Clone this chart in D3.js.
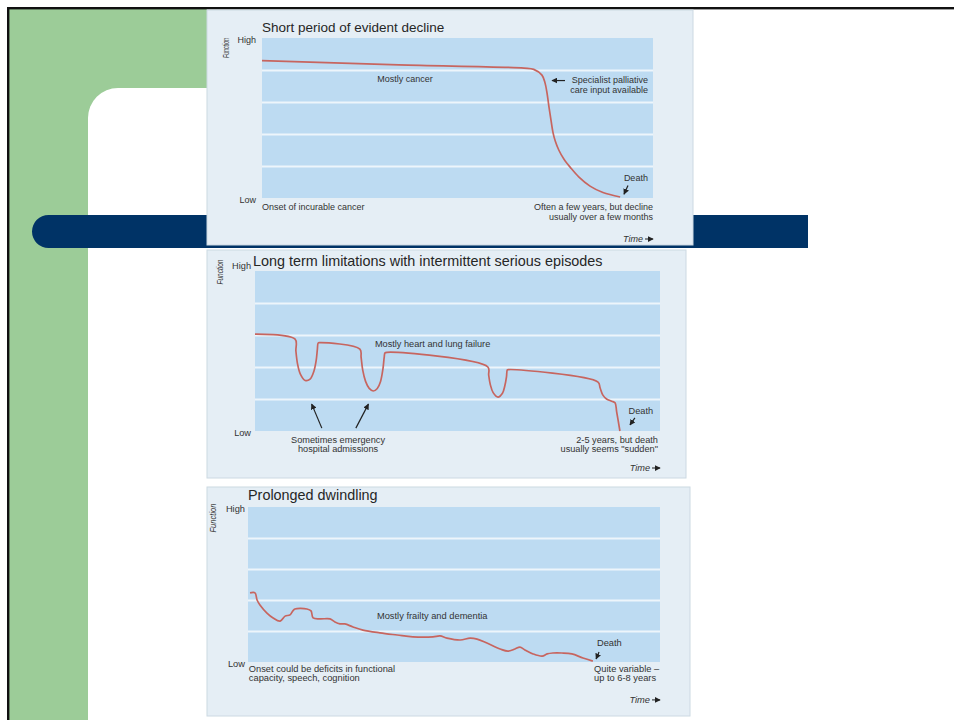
<!DOCTYPE html>
<html>
<head>
<meta charset="utf-8">
<script src="https://cdn.jsdelivr.net/npm/d3@7"></script>
<style>
body{margin:0;background:#fff;}
svg{display:block;font-family:"Liberation Sans",Arial,sans-serif;}
</style>
</head>
<body>
<svg id="slide" width="954" height="720"></svg>
<script>
// panel titles
var titles=["Short period of evident decline","Long term limitations with intermittent serious episodes","Prolonged dwindling"];
var yTickLabels=["Low","High"];   // function axis, 0 and 5
var bandTicks=[1,2,3,4];          // white lines between the blue bands

// trajectories: [time 0-100, function 0(low)-5(high)]
var cancerLine=[[0,4.29],[35,4.16],[67,4.06],[69.5,4.02],[71.6,3.84],[72.4,3.59],[72.9,3.28],[73.4,2.84],[73.9,2.44],[74.4,2.06],[75.0,1.78],[75.9,1.5],[77.2,1.22],[78.9,0.95],[81.0,0.66],[83.9,0.37],[87.2,0.17],[91.6,0.03]];
var heartLine=[[0,3.03],[9.9,2.87],[10.1,2.5],[10.5,2.1],[11.2,1.78],[12.4,1.58],[13.6,1.62],[14.5,1.85],[15.1,2.2],[15.4,2.55],[15.6,2.75],[16.0,2.76],
	[25.9,2.56],[26.2,2.3],[26.6,1.9],[27.3,1.55],[28.2,1.33],[29.2,1.25],[30.2,1.33],[31.0,1.55],[31.6,1.95],[31.9,2.3],[32.1,2.44],[32.6,2.46],
	[57.5,2.0],[57.7,1.75],[58.1,1.45],[58.8,1.2],[60.0,1.06],[61.1,1.18],[61.7,1.42],[62.1,1.7],[62.3,1.91],[62.6,1.92],
	[84.7,1.53],[85.2,1.35],[85.9,1.12],[86.8,1.0],[88.1,0.93],[88.9,0.88],[89.3,0.6],[90.1,0]];
var frailtyLine=[[0.5,2.23],[1.7,2.23],[2.2,2.0],[2.9,1.84],[4.6,1.58],[6.1,1.42],[7.8,1.32],[9.0,1.48],[10.2,1.52],[10.9,1.65],[11.4,1.71],
	[14.3,1.71],[15.3,1.65],[15.8,1.42],[17.5,1.39],[19.9,1.39],[21.1,1.29],[22.3,1.23],[23.5,1.23],[25.5,1.13],[27.9,1.03],
	[32.0,0.94],[36.2,0.87],[40.0,0.81],[44.9,0.81],[46.6,0.84],[48.3,0.77],[51.5,0.71],[53.9,0.77],[55.6,0.74],[58.0,0.61],
	[61.2,0.42],[63.1,0.35],[64.8,0.42],[66.0,0.48],[67.2,0.39],[69.2,0.26],[71.4,0.19],[72.6,0.26],[74.0,0.29],[76.2,0.29],
	[78.6,0.26],[81.3,0.13],[83.7,0.03]];

// annotations in data units
var cancerNotes=[
	{t:36.6,f:3.63,anchor:"middle",lines:["Mostly cancer"]},
	{t:98.7,f:3.59,anchor:"end",lines:["Specialist palliative","care input available"]},
	{t:98.7,f:0.53,anchor:"end",lines:["Death"]},
	{t:0,f:-0.375,anchor:"start",lines:["Onset of incurable cancer"]},
	{t:100,f:-0.375,anchor:"end",lines:["Often a few years, but decline","usually over a few months"]}
];
var cancerArrows=[[[77.5,3.67],[74.2,3.67]],[[93.6,0.39],[92.6,0.12]]];
var heartNotes=[
	{t:29.6,f:2.625,anchor:"start",lines:["Mostly heart and lung failure"]},
	{t:20.5,f:-0.36,anchor:"middle",lines:["Sometimes emergency","hospital admissions"]},
	{t:98.3,f:0.53,anchor:"end",lines:["Death"]},
	{t:99.5,f:-0.36,anchor:"end",lines:["2-5 years, but death","usually seems \"sudden\""]}
];
var heartArrows=[[[16.5,0.09],[14.0,0.84]],[[24.9,0.09],[28.0,0.84]],[[93.8,0.41],[92.6,0.19]]];
var frailtyNotes=[
	{t:31.3,f:1.39,anchor:"start",lines:["Mostly frailty and dementia"]},
	{t:0.2,f:-0.31,anchor:"start",lines:["Onset could be deficits in functional","capacity, speech, cognition"]},
	{t:84.7,f:0.52,anchor:"start",lines:["Death"]},
	{t:84.0,f:-0.31,anchor:"start",lines:["Quite variable \u2013","up to 6-8 years"]}
];
var frailtyArrows=[[[85.2,0.32],[84.5,0.1]]];

var panels=[
	{box:[207,10,693,245],plot:[262,38,653,198],title:titles[0],titleX:262,titleY:32,titleSize:13.5,size:9,gap:9.5,funcX:229,funcY:48,funcLen:20,tickPad:6,highDy:"0.5em",
		data:cancerLine,notes:cancerNotes,arrows:cancerArrows,timeF:-1.375},
	{box:[207,250,686,478],plot:[255,271,660,431],title:titles[1],titleX:253,titleY:266,titleSize:14.4,size:9.2,gap:9.6,funcX:223,funcY:272,funcLen:25,tickPad:4,highDy:"-0.25em",
		data:heartLine,notes:heartNotes,arrows:heartArrows,timeF:-1.25},
	{box:[207,487,690,716],plot:[248,507,660,662],title:titles[2],titleX:248,titleY:500,titleSize:14.4,size:9.3,gap:9.8,funcX:216,funcY:518,funcLen:29,tickPad:3,highDy:"0.5em",
		data:frailtyLine,notes:frailtyNotes,arrows:frailtyArrows,timeF:-1.32}
];

var svg=d3.select("#slide");

//slide background: green strip, white rounded area, black frame
svg.append("rect").attr("x",9).attr("y",9).attr("width",198).attr("height",711).attr("fill","#9ccc98");
svg.append("rect").attr("x",88).attr("y",88).attr("width",900).attr("height",700).attr("rx",30).attr("fill","#fff");
svg.append("rect").attr("x",7).attr("y",7).attr("width",947).attr("height",2.4).attr("fill","#111");
svg.append("rect").attr("x",7).attr("y",7).attr("width",2.4).attr("height",713).attr("fill","#111");
//navy bar with round left end
svg.append("path")
	.attr("d","M48.5,215 H808 V248 H48.5 A16.5,16.5 0 0 1 48.5,215 Z")
	.attr("fill","#003366");

var defs=svg.append("defs");
defs.append("marker").attr("id","head")
	.attr("viewBox","0 0 8 8").attr("refX",7).attr("refY",4)
	.attr("markerWidth",6).attr("markerHeight",6).attr("markerUnits","userSpaceOnUse")
	.attr("orient","auto")
	.append("path").attr("d","M0,0 L8,4 L0,8 Z").attr("fill","#222");

panels.forEach(function(p){
	var g=svg.append("g");
	var w=p.plot[2]-p.plot[0];
	var x=d3.scaleLinear().domain([0,100]).range([p.plot[0],p.plot[2]]);
	var y=d3.scaleLinear().domain([0,5]).range([p.plot[3],p.plot[1]]);

	g.append("rect")
		.attr("x",p.box[0]).attr("y",p.box[1])
		.attr("width",p.box[2]-p.box[0]).attr("height",p.box[3]-p.box[1])
		.attr("fill","#e5eef5").attr("stroke","#ccd9e2").attr("stroke-width",1);
	g.append("rect")
		.attr("x",p.plot[0]).attr("y",p.plot[1])
		.attr("width",w).attr("height",p.plot[3]-p.plot[1])
		.attr("fill","#bddbf2");

	//band separators
	g.append("g")
		.attr("transform","translate("+p.plot[0]+",0)")
		.call(d3.axisLeft(y).tickValues(bandTicks).tickSize(-w).tickFormat(""))
		.call(function(s){ s.select(".domain").remove(); })
		.selectAll("line").attr("stroke","#edf5fb").attr("stroke-width",2);

	//High / Low
	var yAxis=g.append("g")
		.attr("transform","translate("+p.plot[0]+",0)")
		.call(d3.axisLeft(y).tickValues([0,5]).tickSize(0).tickPadding(p.tickPad)
			.tickFormat(function(d){ return d===0?yTickLabels[0]:yTickLabels[1]; }));
	yAxis.select(".domain").remove();
	yAxis.selectAll("text")
		.attr("font-family","Liberation Sans, Arial, sans-serif")
		.attr("font-size",p.size).attr("fill","#333")
		.attr("dy",function(d){ return d===5?p.highDy:"0.45em"; });

	g.append("text")
		.attr("transform","translate("+p.funcX+","+p.funcY+") rotate(-90)")
		.attr("text-anchor","middle")
		.attr("font-size",9).attr("font-style","italic").attr("fill","#333")
		.attr("textLength",p.funcLen).attr("lengthAdjust","spacingAndGlyphs")
		.text("Function");

	g.append("text")
		.attr("x",p.titleX).attr("y",p.titleY)
		.attr("font-size",p.titleSize).attr("fill","#262626")
		.text(p.title);

	//trajectory
	var line=d3.line()
		.x(function(d){ return x(d[0]); })
		.y(function(d){ return y(d[1]); })
		.curve(d3.curveCatmullRom.alpha(0.5));
	g.append("path").datum(p.data)
		.attr("d",line)
		.attr("fill","none").attr("stroke","#c7655f").attr("stroke-width",1.7)
		.attr("stroke-linejoin","round");

	//notes
	p.notes.forEach(function(n){
		var t=g.append("text")
			.attr("text-anchor",n.anchor)
			.attr("font-size",p.size).attr("fill","#333");
		n.lines.forEach(function(s,i){
			t.append("tspan").attr("x",x(n.t)).attr("y",y(n.f)+i*p.gap).text(s);
		});
	});
	p.arrows.forEach(function(a){
		g.append("line")
			.attr("x1",x(a[0][0])).attr("y1",y(a[0][1]))
			.attr("x2",x(a[1][0])).attr("y2",y(a[1][1]))
			.attr("stroke","#222").attr("stroke-width",1.2)
			.attr("marker-end","url(#head)");
	});

	//Time ->
	g.append("text")
		.attr("x",x(100)-10).attr("y",y(p.timeF))
		.attr("text-anchor","end")
		.attr("font-size",p.size).attr("font-style","italic").attr("fill","#333")
		.text("Time");
	g.append("line")
		.attr("x1",x(100)-8).attr("y1",y(p.timeF)-3)
		.attr("x2",x(100)).attr("y2",y(p.timeF)-3)
		.attr("stroke","#222").attr("stroke-width",1)
		.attr("marker-end","url(#head)");
});
</script>
</body>
</html>
